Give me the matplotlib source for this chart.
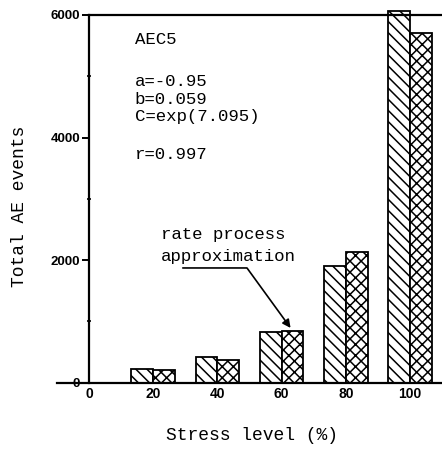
# Total AE events vs stress level, AEC5
import numpy as np
import matplotlib.pyplot as plt

# data
stress = [20, 40, 60, 80, 100]
measured = [220, 415, 820, 1905, 6066]
rate_process = [210, 365, 845, 2140, 5706]

x_ticks = [0, 20, 40, 60, 80, 100]
y_ticks = [0, 2000, 4000, 6000]

params = ["a=-0.95", "b=0.059", "C=exp(7.095)"]

mono = "Liberation Mono"
plt.rcParams['hatch.linewidth'] = 1.1

fig = plt.figure(figsize=(4.42, 4.49), dpi=100)
ax = fig.add_axes([0.129, 0.1477, 0.871, 0.8189])

w = 6.8
x = np.array(stress)
ax.bar(x - w / 2, measured, width=w, facecolor='white', edgecolor='black',
       linewidth=1.3, hatch='\\\\\\', clip_on=False)
ax.bar(x + w / 2, rate_process, width=w, facecolor='white', edgecolor='black',
       linewidth=1.3, hatch='xxx', clip_on=False)

ax.set_xlim(-10, 110)
ax.set_ylim(0, 6000)

# frame: y axis at x=0, top line from the y axis to the right edge
ax.spines['left'].set_position(('data', 0))
ax.spines['right'].set_visible(False)
ax.spines['top'].set_bounds(0, 110)
for s in ['left', 'top', 'bottom']:
    ax.spines[s].set_linewidth(1.6)

ax.set_xticks(x_ticks)
ax.set_yticks(y_ticks)
ax.set_yticks([1000, 3000, 5000], minor=True)
ax.tick_params(axis='x', length=0, pad=3, labelsize=10)
ax.tick_params(axis='y', which='major', direction='out', length=5, width=1.4,
               pad=1.5, labelsize=9.5)
ax.tick_params(axis='y', which='minor', direction='inout', length=3, width=1.2)
for lab in ax.get_xticklabels() + ax.get_yticklabels():
    lab.set_fontweight('bold')
    lab.set_family('Liberation Sans')

ax.set_xlabel("Stress level (%)", fontsize=13, family=mono)
ax.set_ylabel("Total AE events", fontsize=13, family=mono)
ax.xaxis.set_label_coords(0.506, -0.12)
ax.yaxis.set_label_coords(-0.075, 0.48)

# fit parameters
ax.text(14.2, 5592, "AEC5", fontsize=12.5, family=mono, va='center')
for txt, yy in zip(params, [4912, 4613, 4336]):
    ax.text(14.2, yy, txt, fontsize=12.5, family=mono, va='center')
ax.text(14.2, 3716, "r=0.997", fontsize=12.5, family=mono, va='center')

# rate process label with leader arrow
ax.text(22.3, 2418, "rate process", fontsize=12.5, family=mono, va='center')
ax.text(22.3, 2051, "approximation", fontsize=12.5, family=mono, va='center')
ax.annotate("", xy=(62.8, 893), xytext=(29.2, 1872),
            arrowprops=dict(arrowstyle='-|>', color='black', lw=1.2,
                            shrinkA=0, shrinkB=0, mutation_scale=12,
                            connectionstyle='angle,angleA=0,angleB=126,rad=0'))

fig.savefig("out.png", dpi=100)
